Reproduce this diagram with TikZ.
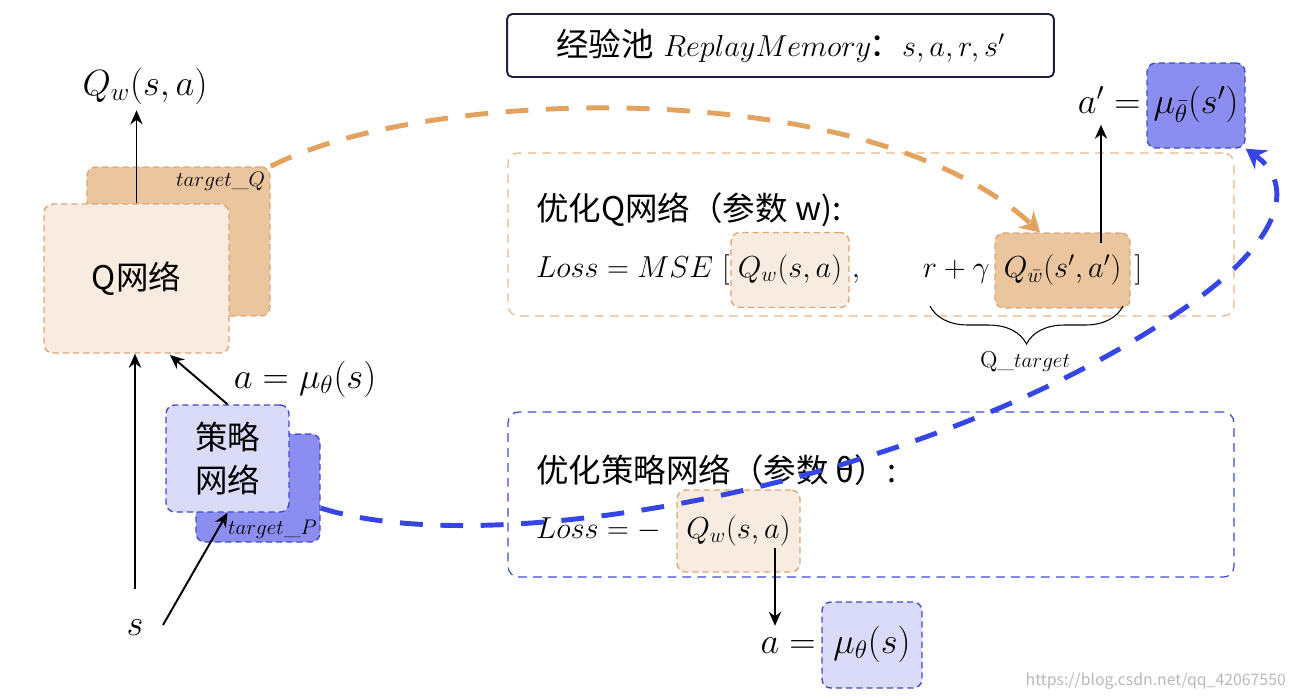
\documentclass[tikz,border=0pt]{standalone}
\usepackage{fontspec}
\newfontfamily\cjk{Noto Sans CJK SC}
\usetikzlibrary{arrows.meta,decorations.pathreplacing}

\definecolor{peachfill}{HTML}{F8EBDF}
\definecolor{peachline}{HTML}{DDA677}
\definecolor{tanfill}{HTML}{EBC59D}
\definecolor{lavfill}{HTML}{DADBF8}
\definecolor{lavdark}{HTML}{8B8EF0}
\definecolor{blueline}{HTML}{3F4AD0}
\definecolor{orangearc}{HTML}{E3A35E}
\definecolor{bluearc}{HTML}{3645E6}
\definecolor{navyline}{HTML}{1E1E44}
\definecolor{regionline}{HTML}{E8B68A}

\tikzset{%
  mathlbl/.style={
    font=\fontsize{17}{20}\selectfont,
    text height=12.5pt,
    text depth=4.5pt
  },
  biglbl/.style={
    font=\fontsize{20}{24}\selectfont,
    text height=14.5pt,
    text depth=5pt
  },
  smalllbl/.style={
    font=\fontsize{13}{15}\selectfont,
    inner sep=3pt
  },
  heading/.style={
    font=\cjk\fontsize{18.5}{22}\selectfont
  },
  membox/.style={
    rectangle,
    rounded corners=3pt,
    draw=navyline,
    line width=1.1pt,
    font=\fontsize{18.5}{22}\selectfont
  },
  netbox/.style={
    rectangle,
    rounded corners=5pt,
    draw,
    line width=0.8pt,
    dash pattern=on 3.5pt off 2.3pt,
    align=center,
    font=\cjk\fontsize{18.5}{24}\selectfont
  },
  qlight/.style={
    netbox,
    mathlbl,
    fill=peachfill,
    draw=peachline
  },
  qdark/.style={
    netbox,
    mathlbl,
    fill=tanfill,
    draw=peachline
  },
  plight/.style={
    netbox,
    biglbl,
    fill=lavfill,
    draw=blueline
  },
  pdark/.style={
    netbox,
    biglbl,
    fill=lavdark,
    draw=blueline
  },
  region/.style={
    rectangle,
    rounded corners=6pt,
    line width=0.7pt,
    dash pattern=on 5pt off 3.5pt
  },
  arr/.style={
    -{Stealth[length=8pt,width=7pt]},
    line width=1.1pt
  },
  bigarc/.style={
    line width=2.8pt,
    dash pattern=on 13pt off 10pt
  },
}

\begin{document}
\begin{tikzpicture}[x=0.02cm,y=-0.02cm]
\useasboundingbox (0,0) rectangle (1294,698);

% two optimisation regions
\node[region, draw=regionline, minimum width=14.52cm, minimum height=3.26cm] (qopt) at (871,234.5) {};
\node[region, draw=blueline, minimum width=14.52cm, minimum height=3.3cm] (popt) at (871,494.5) {};

% replay memory
\node[membox, minimum width=10.94cm, minimum height=1.26cm] (mem) at (780.5,45.5)
  {{\cjk 经验池} $ReplayMemory$\hspace{-1pt}{\cjk：}$s,a,r,s'$};

% Q network and its target
\node[netbox, fill=tanfill, draw=peachline, minimum width=3.66cm, minimum height=2.98cm] (tq) at (178.5,241.5) {};
\node[smalllbl, anchor=north east] (tqlbl) at (tq.north east) {$target\_Q$};
\node[netbox, fill=peachfill, draw=peachline, minimum width=3.7cm, minimum height=2.98cm] (qnet) at (136.5,278.5) {Q网络};

% policy network and its target
\node[netbox, fill=lavdark, draw=blueline, minimum width=2.48cm, minimum height=2.16cm] (tp) at (258,488) {};
\node[smalllbl, anchor=south east, inner sep=2pt] (tplbl) at (tp.south east) {$target\_P$};
\node[netbox, fill=lavfill, draw=blueline, minimum width=2.46cm, minimum height=2.14cm] (pnet) at (227.5,458.5) {策略\\网络};

% labels on the left
\node[biglbl] (qout) at (145,87) {$Q_w(s,a)$};
\node[biglbl] (amu) at (305,380) {$a = \mu_\theta(s)$};
\node[biglbl] (s) at (135,627) {$s$};
\coordinate (sright) at (163,625);
\coordinate (qin) at (170,355);

\draw[arr] (qnet.north) -- (qnet.north |- qout.south);
\draw[arr, shorten <=0.3cm] (s.north) -- (s.north |- qnet.south);
\draw[arr] (sright) -- (pnet.south);
\draw[arr] (pnet.north) -- (qin);

% Q loss
\node[heading, anchor=west] (qhead) at (530,210) {优化Q网络（参数 w):};
\node[mathlbl, anchor=west] (qloss) at (530,270) {$Loss = MSE\ [$};
\node[qlight, minimum width=2.36cm, minimum height=1.5cm] (qwa) at (790,270) {$Q_w(s,a)$};
\node[mathlbl, anchor=west, inner sep=1pt] (qcomma) at (qwa.east) {$,$};
\node[qdark, minimum width=2.7cm, minimum height=1.5cm] (qtb) at (1062.5,270.5) {$Q_{\bar w}(s',a')$};
\node[mathlbl, anchor=east, inner sep=0.5pt] (rg) at ([xshift=-2pt]qtb.west) {$r+\gamma$};
\node[mathlbl, anchor=west, inner sep=2pt] (qclose) at (qtb.east) {$]$};

\coordinate (brl) at (930,306);
\coordinate (brr) at (1123,306);
\draw[line width=0.6pt, decorate, decoration={brace, mirror, amplitude=0.76cm}] (brl) -- (brr);
\node[smalllbl] (qtarget) at (1025,362) {$\mathrm{Q}\_target$};

% target action
\node[pdark, minimum width=1.96cm, minimum height=1.7cm] (mub) at (1196,105.5) {$\mu_{\bar\theta}(s')$};
\node[biglbl, anchor=east, inner sep=1pt] (apeq) at ([xshift=-2pt]mub.west) {$a' =$};
\coordinate (qtup) at (1101,243);
\draw[arr] (qtup) -- (qtup |- apeq.south);

% policy loss
\node[heading, anchor=west] (phead) at (530,470) {优化策略网络（参数 θ）:};
\node[mathlbl, anchor=west] (ploss) at (530,531) {$Loss = -$};
\node[qlight, minimum width=2.46cm, minimum height=1.64cm] (qwb) at (738.5,531) {$Q_w(s,a)$};
\node[plight, minimum width=2cm, minimum height=1.72cm] (pa) at (872,645) {$\mu_\theta(s)$};
\node[biglbl, anchor=east, inner sep=1pt] (aeq) at ([xshift=-2pt]pa.west) {$a =$};
\coordinate (qwdown) at (775,548);
\draw[arr] (qwdown) -- (qwdown |- aeq.north);

% soft updates
\draw[bigarc, draw=orangearc, -{Stealth[length=11pt,width=13pt,fill=orangearc]}] (tq.north east) .. controls (430,85) and (870,75) .. ([xshift=-0.45cm]qtb.north);
\draw[bigarc, draw=bluearc, -{Stealth[length=11pt,width=13pt,fill=bluearc]}] ([yshift=-0.4cm]tp.east) .. controls (500,565) and (950,480) .. (1200,297) .. controls (1290,230) and (1290,180) .. (mub.south east);

\node[anchor=east, font=\cjk\fontsize{9}{10}\selectfont, text=gray!55] (wm) at (1292,681) {https://blog.csdn.net/qq\_42067550};
\end{tikzpicture}
\end{document}
